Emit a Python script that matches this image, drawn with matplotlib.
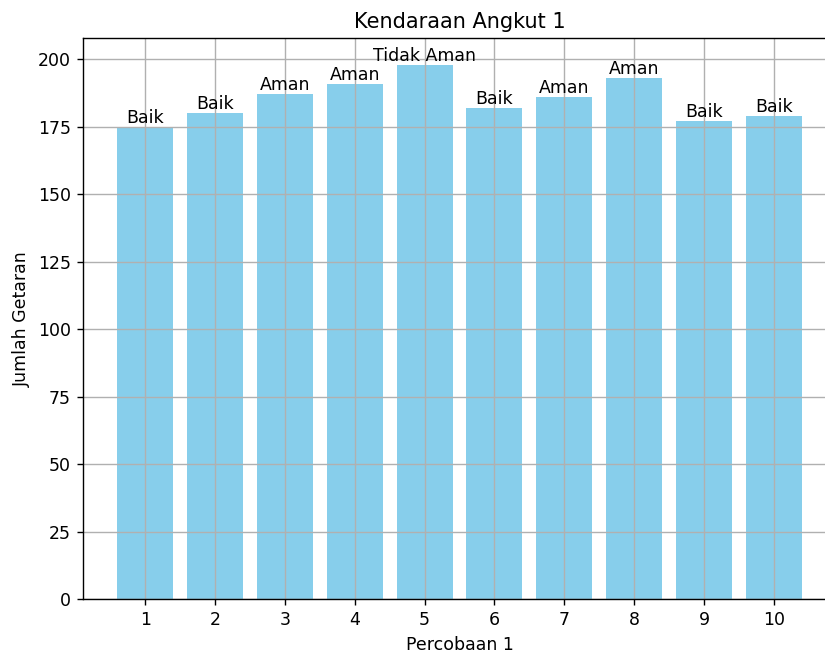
import matplotlib
matplotlib.use("Agg")
import matplotlib.pyplot as plt

percobaan = [1, 2, 3, 4, 5, 6, 7, 8, 9, 10]
getaran = [175, 180, 187, 191, 198, 182, 186, 193, 177, 179]
status = ["Baik", "Baik", "Aman", "Aman", "Tidak Aman", "Baik", "Aman", "Aman", "Baik", "Baik"]

W, H = 825, 654
fig = plt.figure(figsize=(W/125, H/125), dpi=125)
left, right, top, bottom = 83, 836, 38, 599.3
ax = fig.add_axes([left/W, 1 - bottom/H, (right-left)/W, (bottom-top)/H])
bars = ax.bar(percobaan, getaran, color="skyblue")
for b, s in zip(bars, status):
    ax.text(b.get_x() + b.get_width()/2, b.get_height(), s, ha="center", va="bottom")
ax.set_xticks(percobaan)
ax.set_xlabel("Percobaan 1")
ax.set_ylabel("Jumlah Getaran")
ax.set_title("Kendaraan Angkut 1")
ax.grid(True)
fig.savefig("out.png", dpi=125)
